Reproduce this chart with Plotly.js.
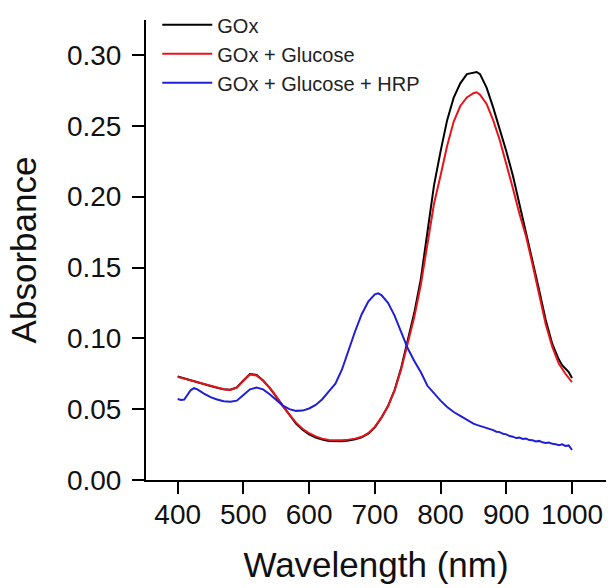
<!DOCTYPE html>
<html>
<head>
<meta charset="utf-8">
<script src="https://cdn.plot.ly/plotly-3.0.1.min.js"></script>
<style>html,body{margin:0;padding:0;background:#fff;}#chart{width:609px;height:588px;}</style>
</head>
<body>
<div id="chart"></div>
<script>
// Wavelength (nm) and absorbance values
var wlGOx = [400,410,420,430,440,450,460,470,480,490,500,510,520,530,540,550,560,570,580,590,600,610,620,630,640,650,660,670,680,690,700,710,720,730,740,750,760,770,780,790,800,810,820,830,840,850,855,860,870,880,890,900,910,920,930,940,950,960,970,975,980,985,990,995,1000];
var absGOx = [0.0730,0.0716,0.0701,0.0689,0.0676,0.0663,0.0651,0.0641,0.0637,0.0654,0.0703,0.0748,0.0742,0.0702,0.0650,0.0588,0.0518,0.0455,0.0398,0.0355,0.0322,0.0300,0.0285,0.0276,0.0272,0.0273,0.0279,0.0287,0.0301,0.0327,0.0372,0.0440,0.0522,0.0635,0.0790,0.0980,0.1180,0.1420,0.1740,0.2080,0.2320,0.2540,0.2700,0.2800,0.2865,0.2875,0.2880,0.2865,0.2770,0.2630,0.2480,0.2320,0.2150,0.1950,0.1760,0.1550,0.1340,0.1130,0.0960,0.0905,0.0850,0.0810,0.0782,0.0762,0.0720];

var wlGlu = [400,410,420,430,440,450,460,470,480,490,500,510,520,530,540,550,560,570,580,590,600,610,620,630,640,650,660,670,680,690,700,710,720,730,740,750,760,770,780,790,800,810,820,830,840,850,855,860,870,880,890,900,910,920,930,940,950,960,970,980,990,1000];
var absGlu = [0.0728,0.0715,0.0700,0.0688,0.0675,0.0662,0.0650,0.0640,0.0636,0.0652,0.0700,0.0745,0.0738,0.0700,0.0650,0.0590,0.0520,0.0460,0.0405,0.0362,0.0330,0.0308,0.0292,0.0283,0.0279,0.0280,0.0285,0.0292,0.0305,0.0330,0.0375,0.0440,0.0520,0.0630,0.0780,0.0960,0.1150,0.1380,0.1650,0.1950,0.2150,0.2360,0.2530,0.2640,0.2700,0.2730,0.2737,0.2720,0.2655,0.2540,0.2400,0.2235,0.2060,0.1880,0.1720,0.1520,0.1310,0.1100,0.0940,0.0820,0.0750,0.0690];

var wlHRP = [400,405,410,420,425,430,440,450,460,470,480,490,500,510,520,530,540,550,560,570,580,590,600,610,620,630,640,650,660,670,680,690,700,705,710,720,730,740,750,760,770,780,790,800,810,820,830,840,845,850,855,860,865,870,875,880,885,890,895,900,905,910,915,920,925,930,935,940,945,950,955,960,965,970,975,980,985,990,995,1000];
var absHRP = [0.0572,0.0565,0.0568,0.0635,0.0648,0.0640,0.0610,0.0585,0.0568,0.0556,0.0553,0.0560,0.0600,0.0640,0.0652,0.0640,0.0605,0.0565,0.0525,0.0500,0.0488,0.0490,0.0505,0.0530,0.0570,0.0625,0.0680,0.0780,0.0920,0.1050,0.1170,0.1260,0.1310,0.1318,0.1305,0.1250,0.1160,0.1050,0.0930,0.0840,0.0760,0.0665,0.0610,0.0560,0.0515,0.0480,0.0452,0.0425,0.0408,0.0398,0.0389,0.0382,0.0372,0.0368,0.0356,0.0352,0.0341,0.0338,0.0326,0.0322,0.0310,0.0306,0.0296,0.0299,0.0290,0.0293,0.0282,0.0280,0.0272,0.0276,0.0266,0.0262,0.0264,0.0255,0.0253,0.0246,0.0252,0.0240,0.0244,0.0212];

var seriesNames = ["GOx", "GOx + Glucose", "GOx + Glucose + HRP"];
var xTickVals = [400,500,600,700,800,900,1000];
var yTickVals = [0.00,0.05,0.10,0.15,0.20,0.25,0.30];

var FONT = "Liberation Sans, Arial, Helvetica, sans-serif";

var traces = [
  {x: wlGOx, y: absGOx, name: seriesNames[0], mode: "lines", line: {color: "#000000", width: 2}},
  {x: wlGlu, y: absGlu, name: seriesNames[1], mode: "lines", line: {color: "#e8141b", width: 2}},
  {x: wlHRP, y: absHRP, name: seriesNames[2], mode: "lines", line: {color: "#1f1fd6", width: 2}}
];

var layout = {
  width: 609, height: 588,
  margin: {l: 146, r: 3, t: 20, b: 108, pad: 0},
  paper_bgcolor: "#ffffff", plot_bgcolor: "#ffffff",
  font: {family: FONT, color: "#000000"},
  showlegend: true,
  legend: {x: 0.0245, y: 1.032, xanchor: "left", yanchor: "top", bgcolor: "rgba(0,0,0,0)", itemwidth: 50,
           font: {family: FONT, size: 20, color: "#222"}, traceorder: "normal"},
  xaxis: {
    range: [351.8, 1051.7], tickvals: xTickVals, ticktext: xTickVals.map(String),
    ticks: "outside", ticklen: 12, tickwidth: 2, tickcolor: "#000", ticklabelstandoff: -4,
    showline: true, linewidth: 2, linecolor: "#000", mirror: false,
    showgrid: false, zeroline: false,
    tickfont: {family: FONT, size: 28, color: "#111"},
    title: {text: "Wavelength (nm)", font: {family: FONT, size: 35, color: "#111"}, standoff: 24},
    automargin: false
  },
  yaxis: {
    range: [0, 0.3247], tickvals: yTickVals, ticktext: yTickVals.map(function(v){return v.toFixed(2);}),
    ticks: "outside", ticklen: 12, tickwidth: 2, tickcolor: "#000", ticklabelstandoff: 5,
    showline: true, linewidth: 2, linecolor: "#000", mirror: false,
    showgrid: false, zeroline: false,
    tickfont: {family: FONT, size: 28, color: "#111"},
    title: {text: "Absorbance", font: {family: FONT, size: 35, color: "#111"}, standoff: 20},
    automargin: false
  }
};

Plotly.newPlot("chart", traces, layout, {displayModeBar: false, staticPlot: true});
</script>
</body>
</html>
